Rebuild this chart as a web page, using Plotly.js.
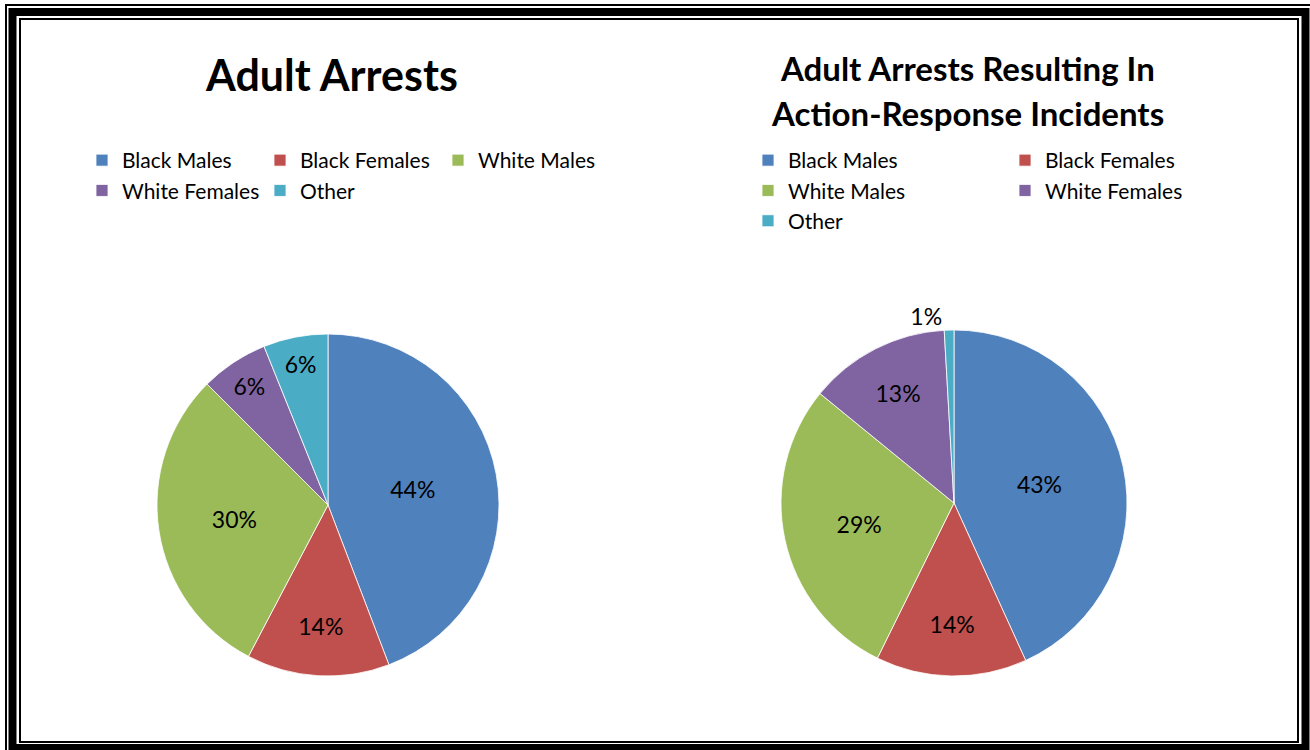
<!DOCTYPE html>
<html><head><meta charset="utf-8">
<script src="https://cdn.plot.ly/plotly-3.0.1.min.js"></script>
<style>html,body{margin:0;padding:0;background:#fff;overflow:hidden}</style>
</head><body><div id="chart" style="width:1310px;height:750px"></div>
<script>
// ---- data ----
const categories = ['Black Males', 'Black Females', 'White Males', 'White Females', 'Other'];
const adultArrestsPct = [44.2, 13.5, 29.8, 6.4, 6.1];
const actionResponsePct = [43.2, 14.1, 28.6, 13.2, 0.9];
const sliceColors = ['#4F81BD', '#C0504D', '#9BBB59', '#8064A2', '#4BACC6'];
const titleLeft = 'Adult Arrests';
const titleRightLines = ['Adult Arrests Resulting In', 'Action-Response Incidents'];

// ---- layout helpers (page pixels -> paper fractions) ----
const W = 1310, H = 750, M = {l: 130, r: 140, t: 0, b: 0};
const PW = W - M.l - M.r, PH = H - M.t - M.b;
const px = x => (x - M.l) / PW;
const py = y => 1 - (y - M.t) / PH;
function pieDomain(cx, cy, r) { return {x: [px(cx - r), px(cx + r)], y: [py(cy + r), py(cy - r)]}; }
const FONT = 'Lato, "Open Sans", sans-serif';

function pieTrace(values, domain, legendId, group) {
  return {
    type: 'pie', labels: categories, values: values, sort: false,
    direction: 'clockwise', rotation: 0, domain: domain, legend: legendId, legendgroup: group,
    marker: {colors: sliceColors, line: {color: '#ffffff', width: 0.8}},
    texttemplate: '%{percent:.0%}', textposition: 'auto', insidetextorientation: 'horizontal',
    textfont: {family: FONT, size: 23, color: '#000'},
    insidetextfont: {family: FONT, size: 23, color: '#000'},
    outsidetextfont: {family: FONT, size: 23, color: '#000'},
    hoverinfo: 'label+percent'
  };
}

const data = [
  pieTrace(adultArrestsPct, pieDomain(328, 505, 171), 'legend', 'left'),
  pieTrace(actionResponsePct, pieDomain(954, 503, 173), 'legend2', 'right')
];

function line(x0, y0, x1, y1, w) {
  return {type: 'line', xref: 'paper', yref: 'paper', x0: px(x0), y0: py(y0), x1: px(x1), y1: py(y1),
          line: {color: '#000', width: w}};
}
function rect(x0, y0, x1, y1, w) {
  return {type: 'rect', xref: 'paper', yref: 'paper', x0: px(x0), y0: py(y0), x1: px(x1), y1: py(y1),
          line: {color: '#000', width: w}, fillcolor: 'rgba(0,0,0,0)'};
}

const legendFont = {family: FONT, size: 21, color: '#000'};
const layout = {
  width: W, height: H, margin: M, paper_bgcolor: '#fff', plot_bgcolor: '#fff',
  font: {family: FONT, color: '#000'},
  showlegend: true,
  legend: {orientation: 'h', traceorder: 'normal', x: px(82), xanchor: 'left', y: py(140), yanchor: 'top',
           entrywidth: 133, font: legendFont, bgcolor: 'rgba(0,0,0,0)'},
  legend2: {orientation: 'h', traceorder: 'normal', x: px(1262), xanchor: 'right', y: py(140), yanchor: 'top',
            entrywidth: 212, font: legendFont, bgcolor: 'rgba(0,0,0,0)'},
  annotations: [
    {text: '<b>' + titleLeft + '</b>', xref: 'paper', yref: 'paper', x: px(331), y: py(75),
     xanchor: 'center', yanchor: 'middle', showarrow: false, font: {family: FONT, size: 43, color: '#000'}},
    {text: '<b>' + titleRightLines[0] + '</b>', xref: 'paper', yref: 'paper', x: px(967), y: py(68),
     xanchor: 'center', yanchor: 'middle', showarrow: false, font: {family: FONT, size: 33, color: '#000'}},
    {text: '<b>' + titleRightLines[1] + '</b>', xref: 'paper', yref: 'paper', x: px(967), y: py(113),
     xanchor: 'center', yanchor: 'middle', showarrow: false, font: {family: FONT, size: 33, color: '#000'}}
  ],
  shapes: [
    line(5, 5, 1310, 5, 2),
    line(6, 4, 6, 750, 2),
    rect(12.5, 12, 1305.5, 748, 8),
    rect(20, 19, 1298, 742, 2)
  ]
};

Plotly.newPlot('chart', data, layout, {displayModeBar: false, staticPlot: true});
</script>
</body></html>
